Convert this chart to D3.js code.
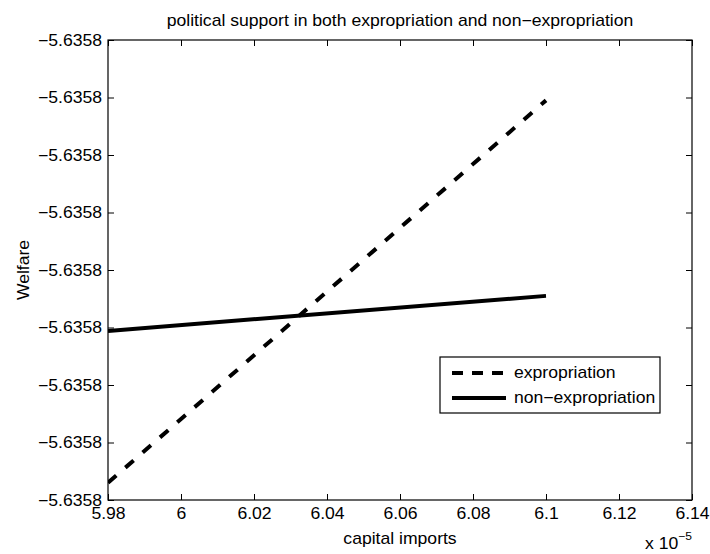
<!DOCTYPE html>
<html>
<head>
<meta charset="utf-8">
<script src="https://cdn.jsdelivr.net/npm/d3@7"></script>
<style>
  html, body { margin: 0; padding: 0; background: #fff; }
  svg { display: block; }
  text { font-family: "Liberation Sans", Arial, Helvetica, sans-serif; fill: #000; }
</style>
</head>
<body>
<svg id="chart" width="710" height="554"></svg>
<script>
// ---- data ----
const titleText = "political support in both expropriation and non\u2212expropriation";
const xLabelText = "capital imports";
const yLabelText = "Welfare";
const seriesNames = ["expropriation", "non\u2212expropriation"];
// x values in units of 1e-5
const xValues = [5.98, 6.10];
const expropriation = [-5.6358077, -5.63580105];
const nonExpropriation = [-5.63580506, -5.63580445];
const xTicks = [5.98, 6.00, 6.02, 6.04, 6.06, 6.08, 6.10, 6.12, 6.14];
const xTickLabels = ["5.98", "6", "6.02", "6.04", "6.06", "6.08", "6.1", "6.12", "6.14"];
const yTicks = [-5.635808, -5.635807, -5.635806, -5.635805, -5.635804, -5.635803, -5.635802, -5.635801, -5.6358];
const yTickLabels = ["\u22125.6358", "\u22125.6358", "\u22125.6358", "\u22125.6358", "\u22125.6358", "\u22125.6358", "\u22125.6358", "\u22125.6358", "\u22125.6358"];

// ---- layout ----
const svg = d3.select("#chart");
const L = 108, R = 692, T = 40, B = 500;
const fs = 16;
const sx = 1.1; // horizontal glyph stretch of the original export

function stretch(sel) {
  sel.each(function () {
    const t = d3.select(this);
    const xa = +t.attr("x") || 0;
    t.attr("x", xa / sx);
    const tr = t.attr("transform") || "";
    t.attr("transform", tr + ` scale(${sx},1)`);
  });
}

const x = d3.scaleLinear().domain([xTicks[0], xTicks[xTicks.length - 1]]).range([L, R]);
const y = d3.scaleLinear().domain([yTicks[0], yTicks[yTicks.length - 1]]).range([B, T]);

const tickLen = 6;
const xFmt = (d) => xTickLabels[xTicks.indexOf(d)];
const yFmt = (d) => yTickLabels[yTicks.indexOf(d)];

const gB = svg.append("g").attr("transform", `translate(0,${B})`)
  .call(d3.axisBottom(x).tickValues(xTicks).tickFormat(xFmt).tickSizeInner(-tickLen).tickSizeOuter(0).tickPadding(8));
const gT = svg.append("g").attr("transform", `translate(0,${T})`)
  .call(d3.axisTop(x).tickValues(xTicks).tickFormat("").tickSizeInner(-tickLen).tickSizeOuter(0));
const gL = svg.append("g").attr("transform", `translate(${L},0)`)
  .call(d3.axisLeft(y).tickValues(yTicks).tickFormat(yFmt).tickSizeInner(-tickLen).tickSizeOuter(0).tickPadding(6));
const gR = svg.append("g").attr("transform", `translate(${R},0)`)
  .call(d3.axisRight(y).tickValues(yTicks).tickFormat("").tickSizeInner(-tickLen).tickSizeOuter(0));

[gB, gT, gL, gR].forEach(g => {
  g.select(".domain").remove();
  g.selectAll("line").attr("stroke", "#000").attr("stroke-width", 1);
  g.selectAll("text").style("font-size", fs + "px").attr("fill", "#000").attr("font-family", null);
  g.attr("font-family", null).attr("font-size", null);
});
stretch(gB.selectAll("text"));
stretch(gL.selectAll("text"));

// box
svg.append("rect").attr("x", L).attr("y", T).attr("width", R - L).attr("height", B - T)
  .attr("fill", "none").attr("stroke", "#000").attr("stroke-width", 1.2);

// lines
const line = d3.line().x((d, i) => x(xValues[i])).y(d => y(d));
svg.append("clipPath").attr("id", "clip").append("rect")
  .attr("x", L).attr("y", T).attr("width", R - L).attr("height", B - T);

svg.append("path").datum(expropriation).attr("d", line)
  .attr("fill", "none").attr("stroke", "#000").attr("stroke-width", 4)
  .attr("stroke-dasharray", "11,12").attr("clip-path", "url(#clip)");
svg.append("path").datum(nonExpropriation).attr("d", line)
  .attr("fill", "none").attr("stroke", "#000").attr("stroke-width", 4)
  .attr("clip-path", "url(#clip)");

// title and labels
const tTitle = svg.append("text").attr("transform", `translate(${(L + R) / 2},26)`).attr("text-anchor", "middle")
  .style("font-size", fs + "px").text(titleText);
const tX = svg.append("text").attr("transform", `translate(${(L + R) / 2},544)`).attr("text-anchor", "middle")
  .style("font-size", fs + "px").text(xLabelText);
const tY = svg.append("text").attr("transform", `translate(29,${(T + B) / 2}) rotate(-90)`).attr("text-anchor", "middle")
  .style("font-size", fs + "px").text(yLabelText);

// exponent label
const ex = svg.append("text").attr("transform", "translate(645,549)").style("font-size", fs + "px");
ex.append("tspan").text("x 10");
ex.append("tspan").attr("dy", -9).style("font-size", "11px").text("\u22125");

// legend
const lg = svg.append("g");
const lx = 440, ly = 357, lw = 220, lh = 56;
lg.append("rect").attr("x", lx).attr("y", ly).attr("width", lw).attr("height", lh)
  .attr("fill", "#fff").attr("stroke", "#000").attr("stroke-width", 1.2);
const rows = [{name: seriesNames[0], dash: "11,9"}, {name: seriesNames[1], dash: null}];
const legTexts = [];
rows.forEach((r, i) => {
  const yy = ly + 16 + i * 25;
  lg.append("line").attr("x1", lx + 12).attr("x2", lx + 66).attr("y1", yy).attr("y2", yy)
    .attr("stroke", "#000").attr("stroke-width", 4).attr("stroke-dasharray", r.dash);
  legTexts.push(lg.append("text").attr("transform", `translate(${lx + 74},${yy + 5})`)
    .style("font-size", fs + "px").text(r.name));
});

[tTitle, tX, tY, ex, ...legTexts].forEach(stretch);
</script>
</body>
</html>
